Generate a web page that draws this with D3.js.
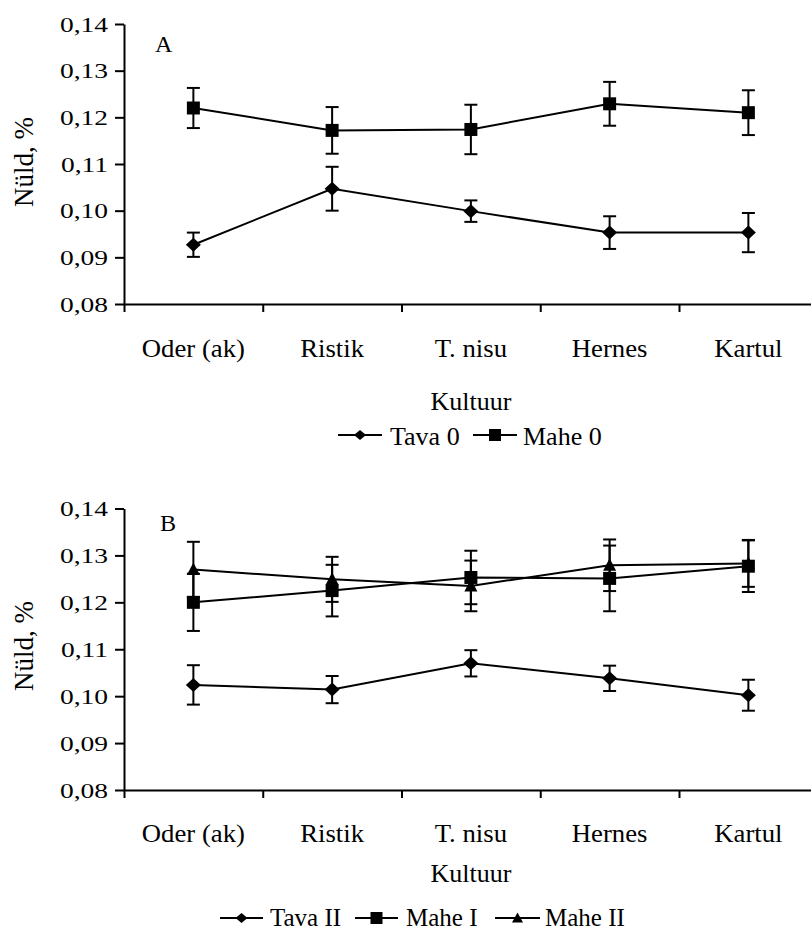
<!DOCTYPE html>
<html><head><meta charset="utf-8">
<script src="https://cdn.jsdelivr.net/npm/d3@7"></script>
<style>
body{margin:0;background:#fff}
svg{display:block}
text{font-family:"Liberation Serif","Times New Roman",serif;fill:#000}
</style>
</head><body><script>
// ---------- data ----------
const categories = ["Oder (ak)", "Ristik", "T. nisu", "Hernes", "Kartul"];
const yTicks = [0.08, 0.09, 0.10, 0.11, 0.12, 0.13, 0.14];
const yTickLabels = ["0,08", "0,09", "0,10", "0,11", "0,12", "0,13", "0,14"];

// Panel A
const tava0 = [0.0927, 0.1047, 0.0999, 0.0953, 0.0953];
const tava0Err = [0.0026, 0.0047, 0.0023, 0.0035, 0.0042];
const mahe0 = [0.1220, 0.1172, 0.1174, 0.1229, 0.1210];
const mahe0Err = [0.0043, 0.0050, 0.0053, 0.0047, 0.0048];

// Panel B
const tavaII = [0.1024, 0.1014, 0.1070, 0.1038, 0.1002];
const tavaIIErr = [0.0042, 0.0029, 0.0028, 0.0027, 0.0033];
const maheI = [0.1200, 0.1225, 0.1253, 0.1251, 0.1277];
const maheIErr = [0.0061, 0.0055, 0.0057, 0.0070, 0.0055];
const maheII = [0.1270, 0.1249, 0.1235, 0.1279, 0.1283];
const maheIIErr = [0.0059, 0.0048, 0.0054, 0.0055, 0.0050];

const yLabel = "Nüld, %";
const xLabel = "Kultuur";

// ---------- drawing ----------
const W = 811, H = 934;
const svg = d3.select("body").append("svg").attr("width", W).attr("height", H);
svg.append("rect").attr("width", W).attr("height", H).attr("fill", "#fff");

function txt(g, x, y, s, size, sx, anchor, rot, dy) {
  return g.append("text")
    .attr("transform", `translate(${x},${y})` + (rot ? ` rotate(${rot})` : "") + ` scale(${sx},1)`)
    .attr("font-size", size)
    .attr("text-anchor", anchor)
    .attr("dy", dy || 0)
    .text(s);
}

const markers = {
  diamond: "M0,-7L7.5,0L0,7L-7.5,0Z",
  square: "M-6.5,-6.5H6.5V6.5H-6.5Z",
  triangle: "M0,-7L6.5,5.5L-6.5,5.5Z"
};
const legendMarkers = {
  diamond: "M0,-5L6,0L0,5L-6,0Z",
  square: "M-6,-6H6V6H-6Z",
  triangle: "M0,-5.5L5.5,4.5L-5.5,4.5Z"
};

function panel(cfg) {
  const g = svg.append("g");
  const x = d3.scaleBand().domain(categories).range([124, 817.75]);
  const xt = d3.scaleLinear().domain([0, categories.length]).range([124, 817.75]);
  const y = d3.scaleLinear().domain([0.08, 0.14]).range([cfg.yBottom, cfg.yTop]);
  const cx = c => x(c) + x.bandwidth() / 2;

  // y axis
  const ya = g.append("g").attr("transform", "translate(124,0)")
    .call(d3.axisLeft(y).tickValues(yTicks).tickSize(9).tickSizeOuter(0).tickFormat(""));
  ya.selectAll("path,line").attr("stroke", "#000").attr("stroke-width", 2);
  yTicks.forEach((t, i) => txt(g, 108, y(t), yTickLabels[i], 22, 1.25, "end", 0, "0.35em"));

  // x axis
  const xa = g.append("g").attr("transform", `translate(0,${cfg.yBottom})`)
    .call(d3.axisBottom(xt).tickValues(d3.range(categories.length + 1)).tickSize(8).tickSizeOuter(0).tickFormat(""));
  xa.selectAll("path,line").attr("stroke", "#000").attr("stroke-width", 2);
  categories.forEach(c => txt(g, cx(c), cfg.catY, c, 25, 1.07, "middle"));

  // axis titles
  txt(g, (124 + 817.75) / 2, cfg.titleY, xLabel, 26, 1, "middle");
  txt(g, 33, cfg.yLabelY, yLabel, 27, 1, "middle", -90);
  txt(g, cfg.letterX, cfg.letterY, cfg.letter, 23, 1.05, "start");

  // series
  const line = d3.line().x(d => cx(d.c)).y(d => y(d.v));
  cfg.series.forEach(s => {
    const pts = categories.map((c, i) => ({ c, v: s.values[i], e: s.err[i] }));
    const sg = g.append("g");
    sg.append("path").datum(pts).attr("d", line)
      .attr("fill", "none").attr("stroke", "#000").attr("stroke-width", 2);
    const eb = sg.selectAll("g.eb").data(pts).join("g").attr("class", "eb");
    eb.append("line").attr("x1", d => cx(d.c)).attr("x2", d => cx(d.c))
      .attr("y1", d => y(d.v + d.e)).attr("y2", d => y(d.v - d.e))
      .attr("stroke", "#000").attr("stroke-width", 2);
    [1, -1].forEach(sgn => {
      eb.append("line").attr("x1", d => cx(d.c) - 6.5).attr("x2", d => cx(d.c) + 6.5)
        .attr("y1", d => y(d.v + sgn * d.e)).attr("y2", d => y(d.v + sgn * d.e))
        .attr("stroke", "#000").attr("stroke-width", 2);
    });
    sg.selectAll("path.mk").data(pts).join("path").attr("class", "mk")
      .attr("d", markers[s.marker])
      .attr("transform", d => `translate(${cx(d.c)},${y(d.v)})`)
      .attr("fill", "#000");
  });

  // legend
  cfg.legend.forEach(l => {
    g.append("line").attr("x1", l.x1).attr("x2", l.x2).attr("y1", cfg.legLineY).attr("y2", cfg.legLineY)
      .attr("stroke", "#000").attr("stroke-width", 2);
    g.append("path").attr("d", legendMarkers[l.marker])
      .attr("transform", `translate(${(l.x1 + l.x2) / 2},${cfg.legLineY})`).attr("fill", "#000");
    txt(g, l.tx, cfg.legTextY, l.name, cfg.legSize, 1, "start");
  });
}

panel({
  yTop: 24, yBottom: 304, catY: 357, titleY: 410, yLabelY: 162,
  letter: "A", letterX: 155, letterY: 52,
  series: [
    { values: tava0, err: tava0Err, marker: "diamond" },
    { values: mahe0, err: mahe0Err, marker: "square" }
  ],
  legLineY: 435, legTextY: 445, legSize: 26,
  legend: [
    { name: "Tava 0", marker: "diamond", x1: 338, x2: 382, tx: 390 },
    { name: "Mahe 0", marker: "square", x1: 473, x2: 517, tx: 523 }
  ]
});

panel({
  yTop: 508.5, yBottom: 790, catY: 842, titleY: 882, yLabelY: 646,
  letter: "B", letterX: 160, letterY: 531,
  series: [
    { values: tavaII, err: tavaIIErr, marker: "diamond" },
    { values: maheI, err: maheIErr, marker: "square" },
    { values: maheII, err: maheIIErr, marker: "triangle" }
  ],
  legLineY: 918, legTextY: 926, legSize: 25,
  legend: [
    { name: "Tava II", marker: "diamond", x1: 220, x2: 263, tx: 270 },
    { name: "Mahe I", marker: "square", x1: 355, x2: 398, tx: 406 },
    { name: "Mahe II", marker: "triangle", x1: 495, x2: 540, tx: 545 }
  ]
});
</script></body></html>
